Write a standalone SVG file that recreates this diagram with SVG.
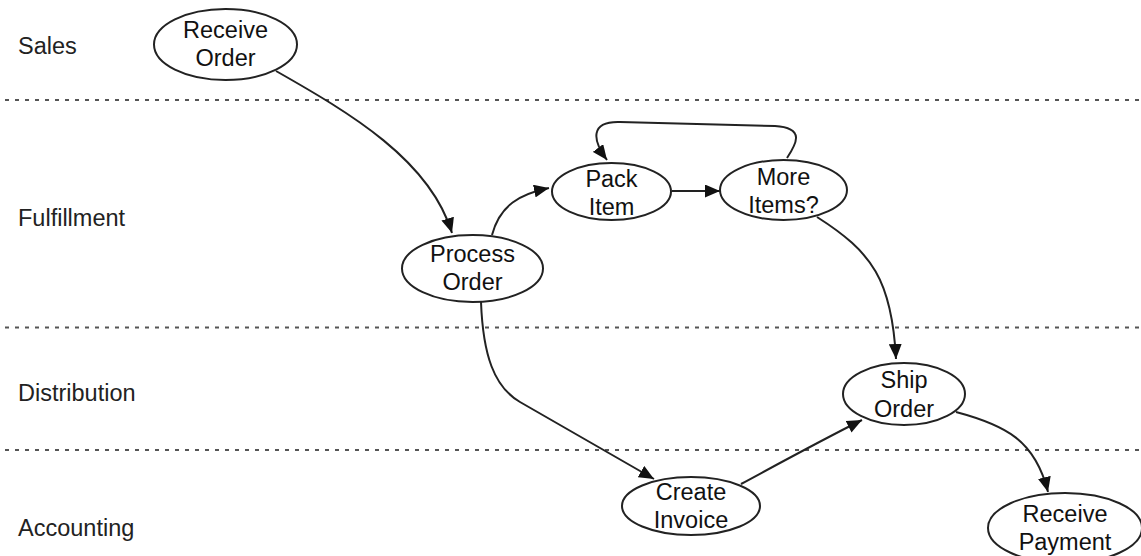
<svg xmlns="http://www.w3.org/2000/svg" width="1141" height="556" viewBox="0 0 1141 556">
  <style>
    .lane { stroke: #555; stroke-width: 2; stroke-dasharray: 4 6; fill: none; }
    .lbl { font-family: "Liberation Sans", Arial, sans-serif; font-size: 23.5px; fill: #222; }
    .node ellipse { fill: #fff; stroke: #222; stroke-width: 2; }
    .node text { font-family: "Liberation Sans", Arial, sans-serif; font-size: 23.5px; fill: #111; text-anchor: middle; }
    .edge { fill: none; stroke: #222; stroke-width: 2; marker-end: url(#arrow); }
  </style>
  <defs>
    <marker id="arrow" markerUnits="userSpaceOnUse" markerWidth="16" markerHeight="13" refX="15" refY="6.5" orient="auto">
      <path d="M0,0 L15,6.5 L0,13 z" fill="#111"/>
    </marker>
  </defs>
  <rect width="1141" height="556" fill="#fff"/>

  <!-- swimlane separators and titles -->
  <g id="lanes">
    <line class="lane" x1="5" y1="100" x2="1141" y2="100"/>
    <line class="lane" x1="5" y1="327.5" x2="1141" y2="327.5"/>
    <line class="lane" x1="5" y1="450" x2="1141" y2="450"/>
    <text class="lbl" x="18" y="54">Sales</text>
    <text class="lbl" x="18" y="226">Fulfillment</text>
    <text class="lbl" x="18" y="401">Distribution</text>
    <text class="lbl" x="18" y="536">Accounting</text>
  </g>

  <!-- connectors -->
  <g id="edges">
    <path class="edge" d="M276,71 C350,113 430,160 452,233"/>
    <path class="edge" d="M492,235 C500,205 520,194 549,188"/>
    <path class="edge" d="M672,191 L720,191"/>
    <path class="edge" d="M787,158 C797,143 805,128 775,126 L620,122 C590,121 592,140 607,160"/>
    <path class="edge" d="M817,217 C872,252 892,280 896,359"/>
    <path class="edge" d="M481,302 C483,355 494,387 520,402 L654,479"/>
    <path class="edge" d="M741,484 C780,463 820,441 862,420"/>
    <path class="edge" d="M956,412 C1005,425 1035,440 1048,492"/>
  </g>

  <g id="receive-order" class="node">
    <ellipse cx="225.5" cy="44.5" rx="71.5" ry="35.5"/>
    <text x="225.5" y="38">Receive</text>
    <text x="225.5" y="66">Order</text>
  </g>
  <g id="process-order" class="node">
    <ellipse cx="472.5" cy="268.5" rx="70.5" ry="33.5"/>
    <text x="472.5" y="262">Process</text>
    <text x="472.5" y="290">Order</text>
  </g>
  <g id="pack-item" class="node">
    <ellipse cx="611.5" cy="191.5" rx="59.5" ry="28.5"/>
    <text x="611.5" y="187">Pack</text>
    <text x="611.5" y="215">Item</text>
  </g>
  <g id="more-items" class="node">
    <ellipse cx="783.5" cy="190" rx="63.5" ry="30"/>
    <text x="783.5" y="185">More</text>
    <text x="783.5" y="213">Items?</text>
  </g>
  <g id="ship-order" class="node">
    <ellipse cx="904" cy="394" rx="61" ry="31"/>
    <text x="904" y="388">Ship</text>
    <text x="904" y="417">Order</text>
  </g>
  <g id="create-invoice" class="node">
    <ellipse cx="691" cy="506" rx="69" ry="29"/>
    <text x="691" y="500">Create</text>
    <text x="691" y="528">Invoice</text>
  </g>
  <g id="receive-payment" class="node">
    <ellipse cx="1065" cy="528" rx="77" ry="35"/>
    <text x="1065" y="522">Receive</text>
    <text x="1065" y="550">Payment</text>
  </g>
</svg>
